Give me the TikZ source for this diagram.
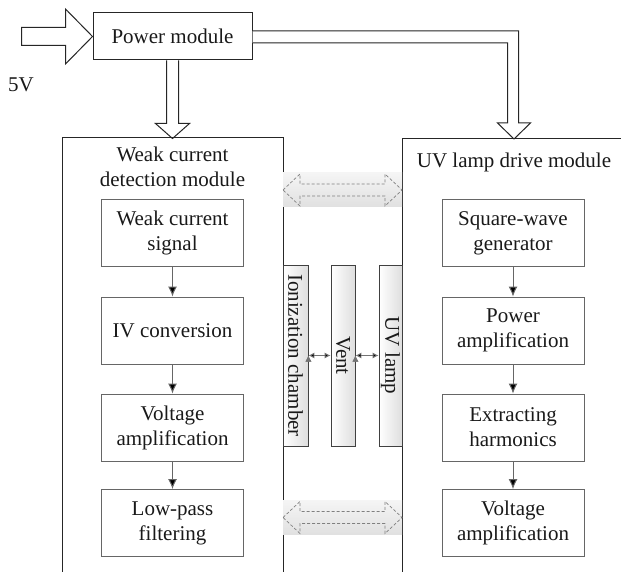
\documentclass[tikz,border=0pt]{standalone}
\usepackage{fontspec}
\setmainfont{Liberation Serif}
\usetikzlibrary{arrows.meta,calc}

\begin{document}
\begin{tikzpicture}[x=1pt,y=-1pt,
  every node/.style={font=\fontsize{21}{25}\selectfont, text=black!90},
  stage/.style={draw=black!60, line width=0.9pt, minimum width=142pt, minimum height=67pt, align=center, inner sep=2pt},
  plate/.style={draw=black!75, line width=0.8pt, minimum width=181pt, inner sep=0pt, rotate=-90, left color=white, right color=black!13},
  flow/.style={-{Latex[length=10pt,width=9pt]}, draw=black!60, line width=1pt},
  gas/.style={{Latex[length=6pt,width=6pt]}-{Latex[length=6pt,width=6pt]}, draw=black!55, line width=0.9pt},
  hollow/.style={draw=black!85, line width=1pt, fill=white, line join=miter},
  band/.style={top color=black!4, bottom color=black!12, draw=none},
  link/.style={draw=black!50, dash pattern=on 3pt off 2pt, line width=0.7pt},
  module/.style={draw=black!85, line width=1pt}]
  \useasboundingbox (0,0) rectangle (621,572);

  % power supply
  \draw (172.5,36.5) node[draw=black!85, line width=1pt, minimum width=159pt, minimum height=47pt] (pwr) {Power module};
  \draw (21,85) node (vin) {5V};
  \draw[hollow] (pwr.west) -- ++(-27,-27.5) -- ++(0,18.5) -- ++(-44,0) -- ++(0,18) -- ++(44,0) -- ++(0,18.5) -- cycle;
  \draw[hollow] ($(pwr.south)+(-6,0)$) -- ++(0,63) -- ++(-11,0) -- ++(17,15) -- ++(17,-15) -- ++(-11,0) -- ++(0,-63);
  \draw[hollow] ($(pwr.east)+(0,-5.5)$) -- ++(266,0) -- ++(0,92) -- ++(12,0) -- ++(-16.5,16) -- ++(-16.5,-16) -- ++(10,0) -- ++(0,-80) -- ++(-255,0);

  % the two modules
  \draw[module] (62,580) |- (283,138) -- (283,580);
  \draw[module] (402,580) |- (630,139);
  \draw (172.5,167) node[align=center] (wcdtitle) {Weak current\\detection module};
  \draw (514,162) node (uvtitle) {UV lamp drive module};

  % weak current chain
  \draw (172.5,233) node[stage] (wcs) {Weak current\\signal};
  \draw (172.5,330.5) node[stage] (ivc) {IV conversion};
  \draw (172.5,427.5) node[stage] (vamp) {Voltage\\amplification};
  \draw (172.5,523) node[stage] (lpf) {Low-pass\\filtering};
  \path[flow] (wcs) edge (ivc);
  \path[flow] (ivc) edge (vamp);
  \path[flow] (vamp) edge (lpf);

  % lamp drive chain
  \draw (513,233) node[stage] (sqw) {Square-wave\\generator};
  \draw (513,330.5) node[stage] (pamp) {Power\\amplification};
  \draw (513,427.5) node[stage] (harm) {Extracting\\harmonics};
  \draw (513,523) node[stage] (vamp2) {Voltage\\amplification};
  \path[flow] (sqw) edge (pamp);
  \path[flow] (pamp) edge (harm);
  \path[flow] (harm) edge (vamp2);

  % chamber, vent and lamp
  \draw (295.5,355.5) node[plate, minimum height=25pt] (ion) {Ionization chamber};
  \draw (343,355.5) node[plate, minimum height=24pt] (vent) {Vent};
  \draw (390.5,355.5) node[plate, minimum height=23pt] (lamp) {UV lamp};
  \path[gas] (ion.north) edge (vent.south);
  \path[gas] (vent.north) edge (lamp.south);

  % dashed links between modules
  \foreach \y in {190,517.5} {
    \fill[band] (283,\y-17) rectangle (402,\y+17);
    \draw[link] (283,\y) -- ++(17,-16) -- ++(0,10) -- ++(85,0) -- ++(0,-10) -- ++(17,16) -- ++(-17,16) -- ++(0,-10) -- ++(-85,0) -- ++(0,10) -- cycle;
  }
\end{tikzpicture}
\end{document}
